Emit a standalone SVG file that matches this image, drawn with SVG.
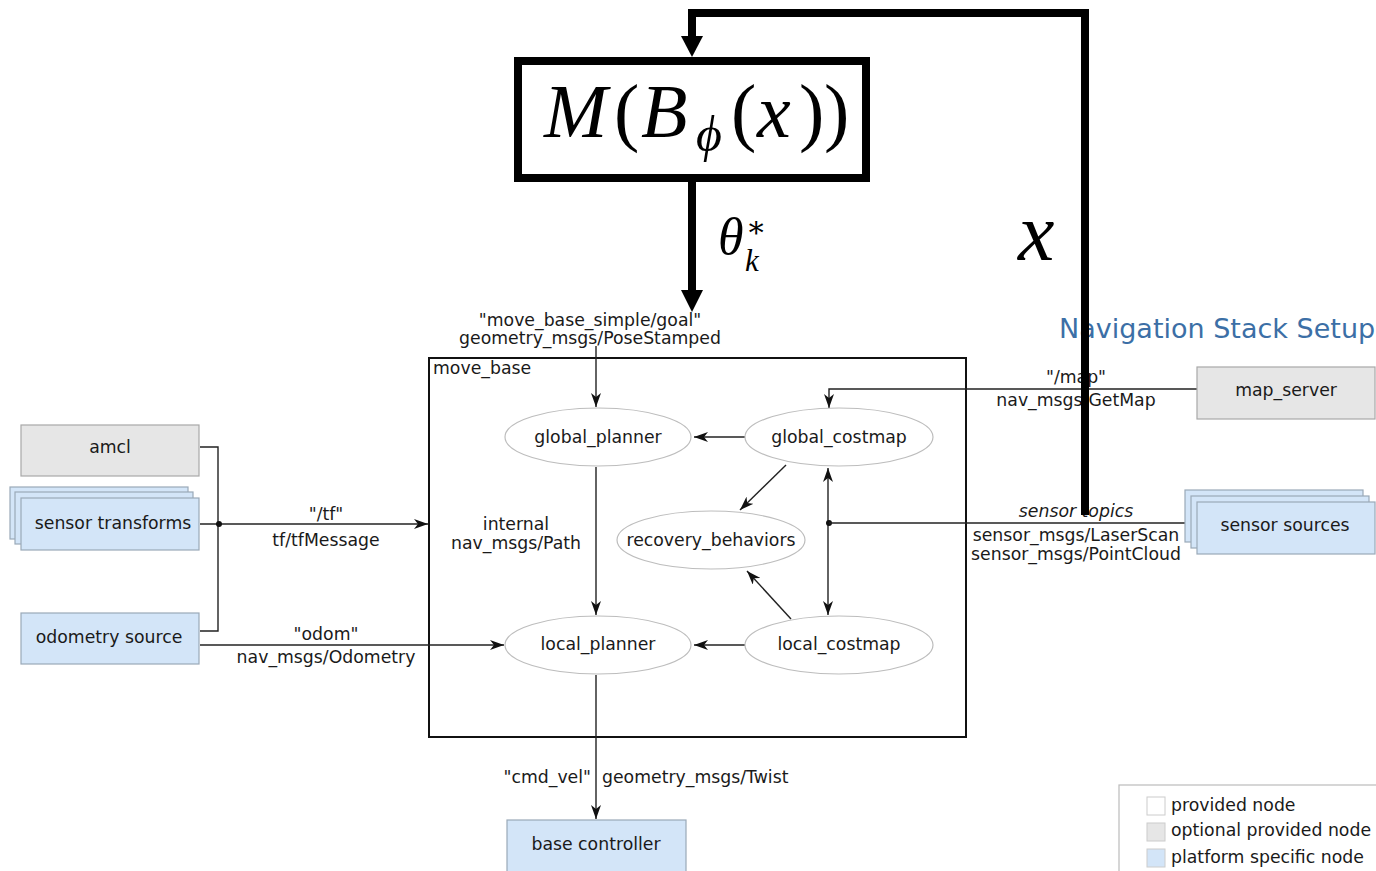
<svg xmlns="http://www.w3.org/2000/svg" width="1376" height="871" viewBox="0 0 1376 871">
<style>
text{font-family:"DejaVu Sans","Liberation Sans",sans-serif;font-size:17.3px;fill:#1a1a1a}
.c{text-anchor:middle}
.opt{fill:#e6e6e6;stroke:#a8a8a8;stroke-width:1.2}
.plat{fill:#d3e5f8;stroke:#9aa9b8;stroke-width:1.2}
.ell{fill:#fff;stroke:#bdbdbd;stroke-width:1.2}
.ln{fill:none;stroke:#222;stroke-width:1.4}
.thick{fill:none;stroke:#000;stroke-width:8}
text.math{font-family:"Liberation Serif","DejaVu Serif",serif;fill:#000}
</style>
<defs>
<marker id="ah" viewBox="0 0 14 10" refX="14" refY="5" markerWidth="14" markerHeight="10" markerUnits="userSpaceOnUse" orient="auto-start-reverse">
<path d="M0,0 L14,5 L0,10 L4,5 Z" fill="#111"/>
</marker>
</defs>
<rect width="1376" height="871" fill="#fff"/>

<g id="move_base">
<rect x="429" y="358" width="537" height="379" fill="none" stroke="#111" stroke-width="2"/>
<text x="433" y="374">move_base</text>
</g>

<g id="connectors">
<path class="ln" d="M596,346 V407" marker-end="url(#ah)"/>
<path class="ln" d="M745,437 H694" marker-end="url(#ah)"/>
<path class="ln" d="M786,465 L740,510" marker-end="url(#ah)"/>
<path class="ln" d="M791,619 L747,571" marker-end="url(#ah)"/>
<path class="ln" d="M745,645 H694" marker-end="url(#ah)"/>
<path class="ln" d="M596,467 V615" marker-end="url(#ah)"/>
<path class="ln" d="M828,468 V615" marker-start="url(#ah)" marker-end="url(#ah)"/>
<circle cx="829" cy="523" r="3" fill="#111"/>
<path class="ln" d="M829,523 H1190" stroke="#555"/>
<path class="ln" d="M1197,389 H829 V408" marker-end="url(#ah)"/>
<path class="ln" d="M200,645 H504" marker-end="url(#ah)"/>
<path class="ln" d="M200,524 H428" marker-end="url(#ah)"/>
<path class="ln" d="M200,447 H218 V631 H200"/>
<circle cx="219" cy="524" r="3" fill="#111"/>
<path class="ln" d="M596,675 V819" marker-end="url(#ah)"/>
</g>

<g id="labels">
<text class="c" x="590" y="326">"move_base_simple/goal"</text>
<text class="c" x="590" y="344">geometry_msgs/PoseStamped</text>
<text class="c" x="326" y="520">"/tf"</text>
<text class="c" x="326" y="546">tf/tfMessage</text>
<text class="c" x="326" y="640">"odom"</text>
<text class="c" x="326" y="663">nav_msgs/Odometry</text>
<text class="c" x="516" y="530">internal</text>
<text class="c" x="516" y="549">nav_msgs/Path</text>
<text class="c" x="1076" y="383">"/map"</text>
<text class="c" x="1076" y="406">nav_msgs/GetMap</text>
<text class="c" x="1076" y="517" font-style="italic">sensor topics</text>
<text class="c" x="1076" y="541">sensor_msgs/LaserScan</text>
<text class="c" x="1076" y="560">sensor_msgs/PointCloud</text>
<text x="591" y="783" text-anchor="end">"cmd_vel"</text>
<text x="602" y="783">geometry_msgs/Twist</text>
<text x="1059" y="338" style="font-size:27px;fill:#3c6fa6">Navigation Stack Setup</text>
</g>

<g id="global_planner"><ellipse class="ell" cx="598" cy="437" rx="93" ry="29"/><text class="c" x="598" y="443">global_planner</text></g>
<g id="global_costmap"><ellipse class="ell" cx="839" cy="437" rx="94" ry="29"/><text class="c" x="839" y="443">global_costmap</text></g>
<g id="recovery_behaviors"><ellipse class="ell" cx="711" cy="540" rx="94" ry="29"/><text class="c" x="711" y="546">recovery_behaviors</text></g>
<g id="local_planner"><ellipse class="ell" cx="598" cy="645" rx="93" ry="29"/><text class="c" x="598" y="650">local_planner</text></g>
<g id="local_costmap"><ellipse class="ell" cx="839" cy="645" rx="94" ry="29"/><text class="c" x="839" y="650">local_costmap</text></g>

<g id="amcl"><rect class="opt" x="21" y="425" width="178" height="51"/><text class="c" x="110" y="453">amcl</text></g>
<g id="sensor_transforms">
<rect class="plat" x="10" y="487" width="178" height="52"/>
<rect class="plat" x="15" y="492" width="178" height="52"/>
<rect class="plat" x="21" y="498" width="178" height="52"/>
<text class="c" x="113" y="529">sensor transforms</text>
</g>
<g id="odometry_source"><rect class="plat" x="21" y="613" width="178" height="51"/><text class="c" x="109" y="643">odometry source</text></g>
<g id="map_server"><rect class="opt" x="1197" y="367" width="178" height="52"/><text class="c" x="1286" y="396">map_server</text></g>
<g id="sensor_sources">
<rect class="plat" x="1185" y="490" width="178" height="52"/>
<rect class="plat" x="1191" y="496" width="178" height="52"/>
<rect class="plat" x="1197" y="502" width="178" height="52"/>
<text class="c" x="1285" y="531">sensor sources</text>
</g>
<g id="base_controller"><rect class="plat" x="507" y="820" width="179" height="60"/><text class="c" x="596" y="850">base controller</text></g>

<g id="legend">
<rect x="1119" y="785" width="270" height="100" fill="#fff" stroke="#bbb" stroke-width="1.2"/>
<rect x="1147" y="797" width="18" height="18" fill="#fff" stroke="#ccc"/>
<rect x="1147" y="823" width="18" height="18" fill="#e6e6e6" stroke="#ccc"/>
<rect x="1147" y="849" width="18" height="18" fill="#d3e5f8" stroke="#ccc"/>
<text x="1171" y="811">provided node</text>
<text x="1171" y="836">optional provided node</text>
<text x="1171" y="863">platform specific node</text>
</g>

<g id="model">
<rect class="thick" x="518" y="61" width="348" height="117"/>
<text class="math" y="137" style="font-size:76px"><tspan x="544" font-style="italic">M</tspan><tspan x="614">(</tspan><tspan x="641" font-style="italic">B</tspan><tspan x="696" font-style="italic" style="font-size:50px" dy="14">ϕ</tspan><tspan x="731" dy="-14">(</tspan><tspan x="757" font-style="italic">x</tspan><tspan x="799">)</tspan><tspan x="824">)</tspan></text>
</g>

<g id="thick_connectors">
<path class="thick" d="M692,182 V292"/>
<path d="M681,290 L703,290 L692,312 Z" fill="#000"/>
<path class="thick" d="M1085,515 V13 H692 V38" stroke-linejoin="miter"/>
<path d="M681,36 L703,36 L692,57 Z" fill="#000"/>
<text class="math" x="718" y="254" style="font-size:52px" font-style="italic">θ</text>
<text class="math" x="746" y="237" style="font-size:30px">∗</text>
<text class="math" x="745" y="271" style="font-size:31px" font-style="italic">k</text>
<text class="math" x="1018" y="260" style="font-size:82px" font-style="italic">x</text>
</g>
</svg>
